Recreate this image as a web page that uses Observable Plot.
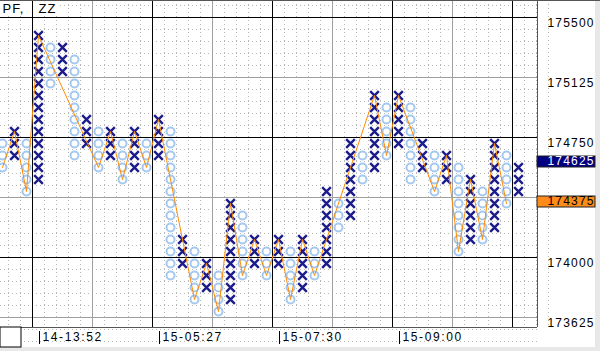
<!DOCTYPE html>
<html><head><meta charset="utf-8">
<script src="https://cdn.jsdelivr.net/npm/d3@7"></script>
<script src="https://cdn.jsdelivr.net/npm/@observablehq/plot@0.6"></script>
<style>
body{margin:0;background:#fff;}
#wrap{position:relative;width:600px;height:351px;background:#e8e8e8;overflow:hidden}
#wrap svg{position:absolute;left:0;top:0;background:#fff}
#topline{position:absolute;left:0;top:0;width:600px;height:1px;background:#555}
</style></head><body><div id="wrap"><div id="topline"></div></div>
<script>
// ---- data ----
const boxSize = 75;
const colTypes = ["O","X","O","X","O","X","O","X","O","X","O","X","O","X","O","X","O","X","O","X","O","X","O","X","O","X","O","X","O","X","O","X","O","X","O","X","O","X","O","X","O","X","O","X"];
const colHigh = [174750,174825,174750,175425,175350,175350,175275,174900,174825,174825,174750,174825,174750,174900,174825,174150,174075,174000,173925,174375,174300,174150,174075,174150,174075,174150,174075,174450,174375,174750,174675,175050,174975,175050,174975,174750,174675,174675,174600,174525,174450,174750,174675,174600];
const colLow  = [174600,174675,174450,174525,175125,175200,174675,174750,174600,174675,174525,174600,174600,174675,173925,174000,173775,173850,173700,173775,173925,174000,173925,174000,173775,173850,173925,174000,174225,174300,174525,174600,174675,174750,174525,174600,174450,174525,174075,174150,174150,174225,174375,174450];
const zzCols   = [0,1,2,3,8,9,10,11,12,13,16,17,18,19,20,21,22,23,24,25,26,31,32,33,36,37,38,39,40,41,42];
const zzPrices = [174600,174825,174450,175425,174600,174825,174525,174825,174600,174900,173775,174000,173700,174375,173925,174150,173925,174150,173775,174150,173925,175050,174675,175050,174450,174675,174075,174525,174150,174750,174375];
const priceTicks = [175500,175125,174750,174375,174000,173625];
const timeCols = [3,13,23,33];
const timeLabels = ["14-13:52","15-05:27","15-07:30","15-09:00"];
const markerPrices = [174625,174375];
const markerFills = ["#000080","#ff8c1a"];
const markerText = ["#ffffff","#000000"];
const headerLabels = ["PF,","ZZ"];

// ---- layout of the price/column grid ----
const pxPerBox = 12;
const topPrice = 175500;
const xMin = -2/pxPerBox, xMax = 44 + 7/pxPerBox;
const yMax = topPrice + 23*boxSize/pxPerBox;
const yMin = 173625 - 4*boxSize/pxPerBox;

const boxes = [];
colTypes.forEach((t,j)=>{
  for(let p=colLow[j]; p<=colHigh[j]+1e-6; p+=boxSize) boxes.push({col:j, price:p, type:t});
});
const zz = zzCols.map((c,i)=>({col:c, price:zzPrices[i]}));

const minorY=[], majorYBlack=[], majorYGrey=[];
for(let k=-2;k<=27;k++){
  const edge = topPrice - k*boxSize + boxSize/2;
  if(k%5===0) (((k%10)+10)%10===0 ? majorYBlack : majorYGrey).push(edge);
  else minorY.push(edge);
}
const minorX=[], majorXBlack=[], majorXGrey=[];
for(let j=-1;j<=45;j++){
  const edge = j+0.5;
  const m = ((j-2)%5+5)%5;
  if(m===0) (((j-2)%10+10)%10===0 ? majorXBlack : majorXGrey).push(edge);
  else minorX.push(edge);
}

// tick labels hidden under a coloured price marker are not shown
const visibleTicks = priceTicks.filter(p=>!markerPrices.includes(p));

const W=595, H=347;
const markerMarks = markerPrices.flatMap((p,i)=>[
  Plot.rect([p],{x1:xMax,x2:xMax,y1:d=>d,y2:d=>d,insetRight:-58,insetTop:-7,insetBottom:-4,fill:markerFills[i],stroke:"#222"}),
  Plot.text([p],{x:xMax,y:d=>d,text:d=>String(d),textAnchor:"start",dx:10,dy:-2,fill:markerText[i]})
]);

const chart = Plot.plot({
  width:W, height:H, marginLeft:0, marginTop:0, marginRight:58, marginBottom:20,
  x:{domain:[xMin,xMax], axis:null},
  y:{domain:[yMin,yMax], axis:null},
  style:{fontFamily:"'Liberation Sans', Arial, sans-serif", fontSize:"12px", background:"#fff", overflow:"visible"},
  marks:[
    Plot.ruleY(minorY,{stroke:"#b8b8b8",strokeDasharray:"1,3"}),
    Plot.ruleX(minorX,{stroke:"#b8b8b8",strokeDasharray:"1,3"}),
    Plot.rect([0],{x1:xMin,x2:xMin,y1:yMax,y2:yMax,insetRight:-58,insetBottom:-16,fill:"#fff"}),
    Plot.ruleY(majorYGrey,{stroke:"#a0a0a0"}),
    Plot.ruleX(majorXGrey,{stroke:"#a0a0a0"}),
    Plot.ruleY(majorYBlack,{stroke:"#000"}),
    Plot.ruleX(majorXBlack,{stroke:"#000"}),
    Plot.dot(boxes.filter(d=>d.type==="O"),{x:"col",y:"price",r:4,stroke:"#a4c8f0",strokeWidth:2,fill:"none"}),
    Plot.dot(boxes.filter(d=>d.type==="X"),{x:"col",y:"price",r:4,symbol:"times",stroke:"#1c1c8c",strokeWidth:2.4}),
    Plot.line(zz,{x:"col",y:"price",stroke:"#ff8c00",strokeWidth:1}),
    Plot.ruleX([xMax],{stroke:"#555"}),
    Plot.ruleY([yMin],{stroke:"#555"}),
    Plot.text(visibleTicks,{x:xMax,y:d=>d,text:d=>String(d),textAnchor:"start",dx:10,fill:"#000"}),
    ...markerMarks,
    Plot.ruleX(timeCols,{y1:yMin,y2:yMin,insetTop:4,insetBottom:-17,dx:1,stroke:"#000"}),
    Plot.text(timeCols,{x:d=>d,y:yMin,text:(d,i)=>timeLabels[i],textAnchor:"start",dx:4,dy:10,fill:"#000"}),
    Plot.rect([0],{x1:xMin,x2:xMin,y1:yMin,y2:yMin,insetRight:-21,insetBottom:-20,fill:"#fff",stroke:"#000"}),
    Plot.text([headerLabels[0]],{x:xMin,y:yMax,text:d=>d,textAnchor:"start",lineAnchor:"middle",dx:2,dy:8,fill:"#000",fontSize:13}),
    Plot.text([headerLabels[1]],{x:xMin,y:yMax,text:d=>d,textAnchor:"start",lineAnchor:"middle",dx:38,dy:8,fill:"#000",fontSize:13})
  ]
});
// letter spacing like the terminal's bitmap font
d3.select(chart).selectAll("text").each(function(){
  const s = this.textContent;
  if(/^\d{6}$/.test(s)) this.style.letterSpacing = "1.2px";
  else if(/^\d\d-\d\d:\d\d$/.test(s)) this.style.letterSpacing = "1.6px";
  else if(headerLabels.includes(s)) this.style.letterSpacing = "1px";
});
document.getElementById("wrap").prepend(chart);
</script></body></html>
